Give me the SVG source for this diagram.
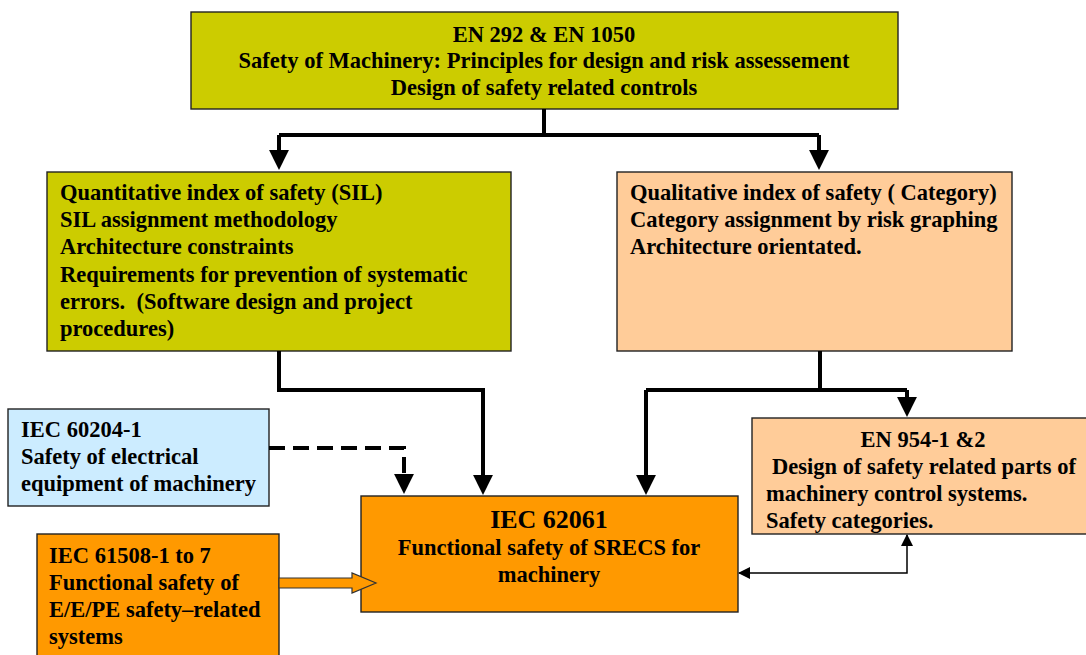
<svg xmlns="http://www.w3.org/2000/svg" width="1086" height="655" viewBox="0 0 1086 655">
  <style>
    text { font-family: "Liberation Serif", "Times New Roman", serif; font-weight: bold; font-size: 22.5px; fill: #000; }
    .c { text-anchor: middle; }
    .big { font-size: 26px; }
    .box { stroke: #222; stroke-width: 1.4; }
    .olive { fill: #CCCC00; }
    .peach { fill: #FFCC99; }
    .orange { fill: #FF9900; }
    .blue { fill: #CCECFF; }
    .wire { fill: none; stroke: #000; stroke-width: 4; }
    .dash { stroke-dasharray: 16 8; }
    .thin { fill: none; stroke: #000; stroke-width: 1.5; }
  </style>
  <defs>
    <marker id="head" markerUnits="userSpaceOnUse" markerWidth="20" markerHeight="20" viewBox="0 0 18 18" refX="10" refY="9" orient="auto">
      <path d="M0,0 L18,9 L0,18 z" fill="#000"/>
    </marker>
    <marker id="small" markerUnits="userSpaceOnUse" markerWidth="12" markerHeight="12" viewBox="0 0 12 12" refX="11" refY="6" orient="auto-start-reverse">
      <path d="M0,0 L12,6 L0,12 z" fill="#000"/>
    </marker>
  </defs>

  <g id="en292">
    <rect class="box olive" x="191" y="12" width="707" height="97"/>
    <text class="c" x="544" y="42">EN 292 &amp; EN 1050</text>
    <text class="c" x="544" y="68">Safety of Machinery: Principles for design and risk assessement</text>
    <text class="c" x="544" y="95">Design of safety related controls</text>
  </g>

  <g id="sil">
    <rect class="box olive" x="47" y="172" width="464" height="179"/>
    <text x="60" y="200">Quantitative index of safety (SIL)</text>
    <text x="60" y="227">SIL assignment methodology</text>
    <text x="60" y="254">Architecture constraints</text>
    <text x="60" y="282">Requirements for prevention of systematic</text>
    <text x="60" y="309" xml:space="preserve">errors.  (Software design and project</text>
    <text x="60" y="336">procedures)</text>
  </g>

  <g id="category">
    <rect class="box peach" x="617" y="172" width="395" height="179"/>
    <text x="630" y="200">Qualitative index of safety ( Category)</text>
    <text x="630" y="227">Category assignment by risk graphing</text>
    <text x="630" y="254">Architecture orientated.</text>
  </g>

  <g id="iec60204">
    <rect class="box blue" x="8" y="409" width="261" height="97"/>
    <text x="21" y="437">IEC 60204-1</text>
    <text x="21" y="464">Safety of electrical</text>
    <text x="21" y="491">equipment of machinery</text>
  </g>

  <g id="en954">
    <rect class="box peach" x="752" y="418" width="345" height="116"/>
    <text class="c" x="923" y="447">EN 954-1 &amp;2</text>
    <text x="772" y="474">Design of safety related parts of</text>
    <text x="766" y="501">machinery control systems.</text>
    <text x="766" y="528">Safety categories.</text>
  </g>

  <g id="iec62061">
    <rect class="box orange" x="361" y="496" width="377" height="116"/>
    <text class="c big" x="549" y="528">IEC 62061</text>
    <text class="c" x="549" y="555">Functional safety of SRECS for</text>
    <text class="c" x="549" y="582">machinery</text>
  </g>

  <g id="iec61508">
    <rect class="box orange" x="37" y="534" width="242" height="130"/>
    <text x="49" y="563">IEC 61508-1 to 7</text>
    <text x="49" y="590">Functional safety of</text>
    <text x="49" y="617">E/E/PE safety–related</text>
    <text x="49" y="644">systems</text>
  </g>

  <!-- links between the standards, drawn over the boxes -->
  <g id="connectors">
    <path class="wire" d="M544,109 V135 M279,135 H819"/>
    <path class="wire" d="M279,135 V161" marker-end="url(#head)"/>
    <path class="wire" d="M819,135 V161" marker-end="url(#head)"/>
    <path class="wire" d="M279,351 V390 H483 V486" marker-end="url(#head)"/>
    <path class="wire" d="M820,351 V390 M646,390 H907"/>
    <path class="wire" d="M646,390 V486" marker-end="url(#head)"/>
    <path class="wire" d="M907,390 V408" marker-end="url(#head)"/>
    <path class="wire dash" d="M269,448 H404 V485" marker-end="url(#head)"/>
    <path class="thin" d="M907,535 V573 H739" marker-start="url(#small)" marker-end="url(#small)"/>
    <polygon points="279,578 352,578 352,573 376,583 352,593 352,588 279,588" fill="#FF9900" stroke="#333" stroke-width="1.2"/>
  </g>
</svg>
